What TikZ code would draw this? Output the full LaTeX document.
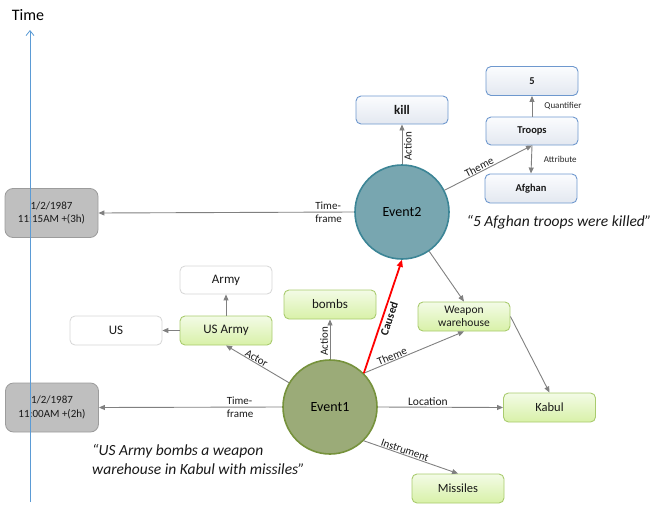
\documentclass[tikz,border=0pt]{standalone}
\usepackage{fontspec}
\setmainfont{Carlito}
\usetikzlibrary{arrows.meta}
\definecolor{lgray}{HTML}{808080}
\definecolor{gboxb}{HTML}{A9CB6E}
\definecolor{gtop}{HTML}{F3FBE6}
\definecolor{gbot}{HTML}{D8F1A8}
\definecolor{bboxb}{HTML}{6E98CE}
\definecolor{btop}{HTML}{FBFCFE}
\definecolor{bbot}{HTML}{E3E8F0}
\definecolor{tfill}{HTML}{BFBFBF}
\definecolor{tborder}{HTML}{9C9C9C}
\definecolor{wborder}{HTML}{D6D6D6}
\definecolor{evtwo}{HTML}{78A6B0}
\definecolor{evtwob}{HTML}{3C8596}
\definecolor{evone}{HTML}{9BAB78}
\definecolor{evoneb}{HTML}{76923C}
\definecolor{axisblue}{HTML}{5B9BD5}
\tikzset{
  x=1pt, y=-1pt,
  base/.style={rounded corners=5pt, minimum width=92pt, minimum height=29pt, inner sep=1pt, align=center, text=black!90},
  gbox/.style={base, draw=gboxb, line width=0.9pt, top color=gtop, bottom color=gbot, font=\fontsize{13}{15}\selectfont},
  bbox/.style={base, draw=bboxb, line width=0.9pt, top color=btop, bottom color=bbot, font=\bfseries\fontsize{10.5}{12}\selectfont},
  wbox/.style={base, draw=wborder, line width=0.8pt, fill=white, font=\fontsize{13}{15}\selectfont},
  tbox/.style={base, draw=tborder, line width=0.8pt, fill=tfill, minimum width=93pt, minimum height=49pt, rounded corners=8pt, font=\fontsize{11}{13.5}\selectfont},
  evt/.style={circle, minimum size=94pt, inner sep=0pt, line width=1.6pt, font=\fontsize{14}{16}\selectfont},
  conn/.style={draw=lgray, line width=0.9pt, -{Triangle[length=6pt,width=5pt]}},
  elab/.style={font=\fontsize{11}{13}\selectfont, inner sep=1.5pt, text=black!90},
  slab/.style={font=\fontsize{9}{11}\selectfont, inner sep=1pt, text=black!85},
  quote/.style={font=\itshape\fontsize{15.5}{19}\selectfont, inner sep=0pt, text=black!90},
}
\begin{document}
\begin{tikzpicture}
\useasboundingbox (0,0) rectangle (656,506);
% time boxes
\node[tbox] (t2) at (51.5,213) {1/2/1987\\11:15AM +(3h)};
\node[tbox] (t1) at (52,407.5) {1/2/1987\\11:00AM +(2h)};
% time axis
\coordinate (axb) at (30,502);
\coordinate (axt) at (30,30);
\draw[draw=axisblue, line width=0.8pt, -{Straight Barb[length=5pt,width=8pt]}] (axb) -- (axt);
\node[font=\fontsize{16}{18}\selectfont, inner sep=0pt] (tlab) at (28,15) {Time};
% events
\node[evt, draw=evtwob, fill=evtwo] (e2) at (402,212) {Event2};
\node[evt, draw=evoneb, fill=evone] (e1) at (330,407) {Event1};
% blue boxes
\node[bbox, font=\bfseries\fontsize{13}{15}\selectfont, minimum height=28pt] (kill) at (402,110) {kill};
\node[bbox] (five) at (532,81) {5};
\node[bbox, minimum height=28pt] (troops) at (532,131) {Troops};
\node[bbox] (afghan) at (531,188.5) {Afghan};
% white boxes
\node[wbox, minimum height=28pt] (army) at (226,280) {Army};
\node[wbox] (us) at (116,330.5) {US};
% green boxes
\node[gbox] (usarmy) at (226,330.5) {US Army};
\node[gbox] (bombs) at (330,304.5) {bombs};
\node[gbox, font=\fontsize{11.5}{13.5}\selectfont] (ww) at (464,316.5) {Weapon\\warehouse};
\node[gbox, font=\fontsize{12.5}{14}\selectfont] (kabul) at (549.5,407.5) {Kabul};
\node[gbox, font=\fontsize{12.5}{14}\selectfont] (missiles) at (458,488.5) {Missiles};
% quotes
\node[quote] (q2) at (559,222) {“5 Afghan troops were killed”};
\node[quote, align=left, anchor=north west] (q1) at (92,444) {“US Army bombs a weapon\\warehouse in Kabul with missiles”};
% connectors event2
\draw[conn] (e2.west) -- (t2.east) node[elab, pos=0.1, align=left] {Time-\\frame};
\draw[conn] (e2.north) -- (kill.south) node[elab, pos=0.45, sloped, below] {Action};
\draw[conn] (e2) -- (troops.south) node[elab, pos=0.42, sloped, above, inner sep=0.5pt] {Theme};
\draw[conn] (troops.north) -- (five.south) node[slab, pos=0.5, right=11pt] {Quantifier};
\draw[conn] (troops.south) -- (afghan.north) node[slab, pos=0.5, right=11pt] {Attribute};
\draw[conn] (e2) -- (ww.north);
% connectors event1
\draw[conn] (e1.west) -- (t1.east) node[elab, pos=0.23, align=left] {Time-\\frame};
\draw[conn] (e1) -- (usarmy.south) node[elab, pos=0.55, sloped, above, inner sep=0.5pt] {Actor};
\draw[conn] (e1.north) -- (bombs.south) node[elab, pos=0.45, sloped, above] {Action};
\draw[conn] (e1.45) -- (ww.south) node[elab, pos=0.3, sloped, above, inner sep=0.5pt] {Theme};
\draw[conn] (e1.east) -- (kabul.west) node[elab, pos=0.4, above, font=\fontsize{11.5}{13}\selectfont] {Location};
\draw[conn] (e1.-45) -- (missiles.north) node[elab, pos=0.42, sloped, above, inner sep=0.5pt] {Instrument};
\draw[conn] (ww.east) -- (kabul.north);
\draw[conn] (usarmy.north) -- (army.south);
\draw[conn] (usarmy.west) -- (us.east);
\draw[draw=red, line width=1.8pt, -{Triangle[length=7pt,width=6pt]}] (e1.45) -- (e2.south) node[elab, pos=0.5, sloped, below, font=\bfseries\fontsize{11.5}{13}\selectfont] {Caused};
\end{tikzpicture}
\end{document}
